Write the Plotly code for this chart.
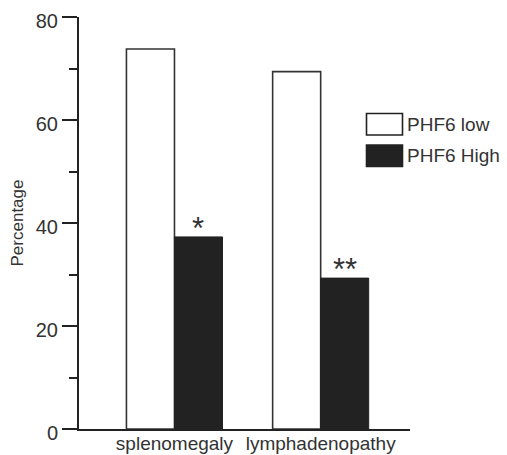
import plotly.graph_objects as go

categories = ["splenomegaly", "lymphadenopathy"]
phf6_low = [73.8, 69.4]
phf6_high = [37.3, 29.3]
significance = ["*", "**"]
y_ticks = [0, 20, 40, 60, 80]

# page body has an 8px margin, so the figure is drawn 8px in from the corner
OFF = 8
PLOT_L, PLOT_R, PLOT_T, PLOT_B = 79, 410, 17, 429
W, H = 507 - OFF, 455 - OFF
ML, MT = PLOT_L - OFF, PLOT_T - OFF
PW, PH = PLOT_R - PLOT_L, PLOT_B - PLOT_T
MR, MB = W - ML - PW, H - MT - PH

bargap = 0.343
barw = (1 - bargap) / 2
xpos = list(range(len(categories)))

FONT = "Liberation Sans, Arial, sans-serif"

fig = go.Figure()
fig.add_trace(go.Bar(x=xpos, y=phf6_low, name="PHF6 low",
                     marker=dict(color="white", line=dict(color="#333333", width=1.6)),
                     showlegend=False))
fig.add_trace(go.Bar(x=xpos, y=phf6_high, name="PHF6 High",
                     marker=dict(color="#222222", line=dict(color="#222222", width=1)),
                     showlegend=False))

for i, s in enumerate(significance):
    fig.add_annotation(x=xpos[i] + barw / 2, y=phf6_high[i], text=s, showarrow=False,
                       yanchor="bottom", yshift=-11,
                       font=dict(family=FONT, size=31, color="#333333"))

def px2paper_x(px):
    return (px - PLOT_L) / PW

def px2paper_y(py):
    return 1 - (py - PLOT_T) / PH

legend_items = [("PHF6 low", "white", 113.5, 135), ("PHF6 High", "#222222", 145, 166.5)]
for label, color, y0, y1 in legend_items:
    fig.add_shape(type="rect", xref="paper", yref="paper",
                  x0=px2paper_x(366.5), x1=px2paper_x(402.5),
                  y0=px2paper_y(y1), y1=px2paper_y(y0),
                  fillcolor=color, line=dict(color="#222222", width=1.6))
    fig.add_annotation(xref="paper", yref="paper", x=px2paper_x(405), y=px2paper_y((y0 + y1) / 2),
                       text=label, showarrow=False, xanchor="left", yanchor="middle",
                       font=dict(family=FONT, size=19, color="#333333"))

fig.update_layout(
    width=W, height=H,
    margin=dict(l=ML, r=MR, t=MT, b=MB, autoexpand=False),
    paper_bgcolor="white", plot_bgcolor="white",
    barmode="group", bargap=bargap, bargroupgap=0,
    font=dict(family=FONT, color="#333333"),
)
fig.update_xaxes(range=[-0.653, 1.611], tickvals=xpos, ticktext=categories,
                 showline=True, linecolor="#222222", linewidth=2, ticks="",
                 showgrid=False, zeroline=False, automargin=False,
                 ticklabelstandoff=-4, ticklabeloverflow="allow",
                 tickfont=dict(family=FONT, size=19, color="#333333"))
fig.update_yaxes(range=[0, 80], tickvals=y_ticks, showline=True, linecolor="#222222", linewidth=2,
                 ticks="outside", ticklen=15, tickwidth=2, tickcolor="#222222",
                 minor=dict(dtick=10, ticks="outside", ticklen=8, tickwidth=2, tickcolor="#222222", showgrid=False),
                 showgrid=False, zeroline=False, automargin=False,
                 ticklabelshift=4, ticklabeloverflow="allow",
                 tickfont=dict(family=FONT, size=20, color="#333333"),
                 title=dict(text="Percentage", font=dict(family=FONT, size=17, color="#333333"), standoff=12))

fig.write_html("out.html")
